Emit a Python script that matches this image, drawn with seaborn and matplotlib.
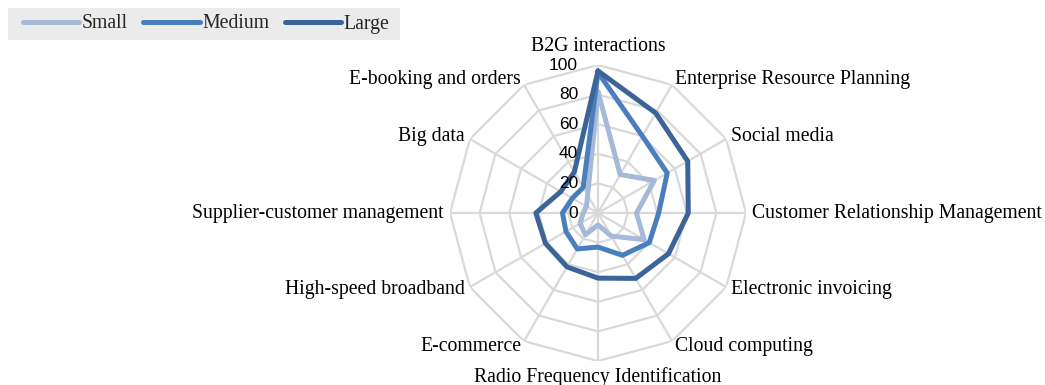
import numpy as np
import pandas as pd
import seaborn as sns
import matplotlib
matplotlib.use("Agg")
import matplotlib.pyplot as plt
from matplotlib.patches import Rectangle
from matplotlib.transforms import offset_copy

categories = [
    "B2G interactions",
    "Enterprise Resource Planning",
    "Social media",
    "Customer Relationship Management",
    "Electronic invoicing",
    "Cloud computing",
    "Radio Frequency Identification",
    "E-commerce",
    "High-speed broadband",
    "Supplier-customer management",
    "Big data",
    "E-booking and orders",
]
small = [82, 30, 44, 26, 36, 18, 8, 17, 14, 10, 9, 14]
medium = [95, 60, 54, 41, 40, 33, 23, 28, 25, 24, 20, 20]
large = [96, 78, 70, 61, 55, 51, 44, 42, 41, 42, 29, 32]
series_names = ["Small", "Medium", "Large"]
radial_ticks = [0, 20, 40, 60, 80, 100]

colors = {"Small": "#A6B9D8", "Medium": "#4A7FBF", "Large": "#3B6499"}

sns.set_theme(style="white")
plt.rcParams["font.family"] = ["Liberation Serif", "DejaVu Serif"]

n = len(categories)
angles = np.arange(n) * 2 * np.pi / n

# long-form table, each series closed back onto its first category
rows = []
for name, vals in zip(series_names, [small, medium, large]):
    for k in range(n):
        rows.append({"series": name, "theta": angles[k], "value": vals[k]})
    rows.append({"series": name, "theta": 2 * np.pi, "value": vals[0]})
df = pd.DataFrame(rows)

W, H = 1045, 385
fig = plt.figure(figsize=(W / 100, H / 100), dpi=100)
ax = fig.add_axes([0.4306, 0.0623, 0.2833, 0.7688], projection="polar")
ax.set_theta_zero_location("N")
ax.set_theta_direction(-1)
ax.set_ylim(0, 100)
ax.grid(False)
ax.set_xticks([])
ax.set_yticks([])
ax.spines["polar"].set_visible(False)
ax.set_facecolor("none")

grid_color = "#D9D9D9"
ring_theta = np.append(angles, 2 * np.pi)
for r in radial_ticks[1:]:
    ax.plot(ring_theta, [r] * (n + 1), color=grid_color, lw=1.6, zorder=1)
for a in angles:
    ax.plot([a, a], [0, 100], color=grid_color, lw=1.6, zorder=1)

sns.lineplot(data=df, x="theta", y="value", hue="series", hue_order=series_names,
             palette=colors, sort=False, estimator=None, units="series",
             lw=3.6, ax=ax, legend=False, zorder=3)

# radial value labels to the left of the vertical axis
tick_tf = offset_copy(ax.transData, fig=fig, x=-20, y=0, units="dots")
for v in radial_ticks:
    ax.text(0, v, str(v), transform=tick_tf, ha="right", va="center",
            fontsize=12.5, family=["Liberation Sans Narrow", "Liberation Sans", "DejaVu Sans"],
            color="#000000", zorder=4)

# category labels around the chart
for a, lab in zip(angles, categories):
    deg = np.degrees(a) % 360
    if np.isclose(deg, 0):
        ha, va, r = "center", "bottom", 106
    elif np.isclose(deg, 180):
        ha, va, r = "center", "top", 104
    elif deg < 180:
        ha, va, r = "left", "center", 104
    else:
        ha, va, r = "right", "center", 104
    ax.text(a, r, lab, ha=ha, va=va, fontsize=14.2, color="#000000")

# legend strip in the top-left corner
fig.patches.append(Rectangle((8 / W, 1 - 40 / H), 392 / W, 32 / H, transform=fig.transFigure,
                             facecolor="#EBEBEB", edgecolor="none", zorder=0))
handles = [plt.Line2D([], [], color=colors[s], lw=3.6, solid_capstyle="round") for s in series_names]
fig.legend(handles, series_names, loc="center left", bbox_to_anchor=(23 / W, 1 - 24 / H),
           ncol=3, frameon=False, fontsize=14.2, handlelength=2.85, handletextpad=0.12,
           columnspacing=0.8, borderpad=0.0, borderaxespad=0.0)

fig.savefig("out.png", dpi=100)
